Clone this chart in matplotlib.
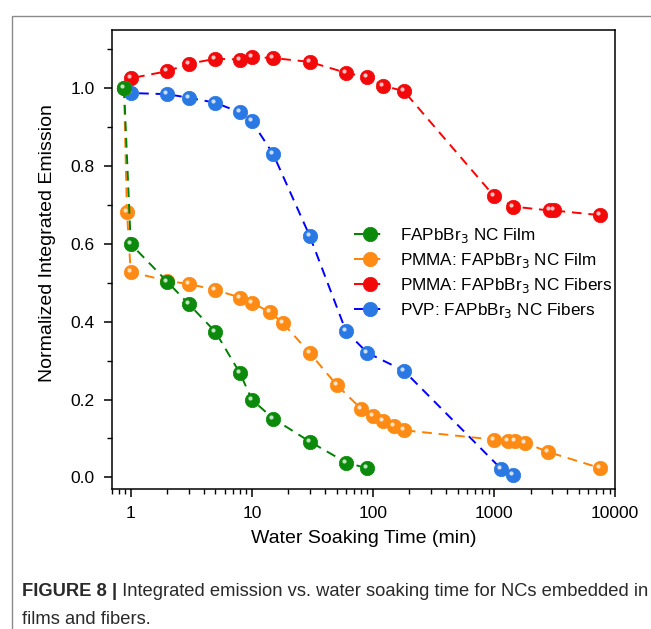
import matplotlib
matplotlib.use("Agg")
import matplotlib.pyplot as plt
import matplotlib.transforms as mtransforms
from matplotlib.patches import Rectangle
from matplotlib.ticker import FuncFormatter, LogLocator, MultipleLocator

plt.rcParams['font.family'] = ['Liberation Sans', 'DejaVu Sans']

# time in minutes, normalized integrated emission
film_x = [0.88, 1, 2, 3, 5, 8, 10, 15, 30, 60, 90]
film_y = [1.0, 0.60, 0.503, 0.446, 0.374, 0.267, 0.200, 0.151, 0.092, 0.038, 0.023]

pmma_film_x = [0.88, 0.93, 1, 2, 3, 5, 8, 10, 14, 18, 30, 50, 80, 100, 120, 150, 180,
               1000, 1300, 1500, 1800, 2800, 7500]
pmma_film_y = [1.0, 0.683, 0.528, 0.505, 0.497, 0.482, 0.462, 0.449, 0.425, 0.397, 0.320,
               0.238, 0.176, 0.157, 0.144, 0.132, 0.121, 0.097, 0.093, 0.093, 0.089, 0.065, 0.024]

pmma_fib_x = [0.88, 1, 2, 3, 5, 8, 10, 15, 30, 60, 90, 120, 180, 1000, 1440, 2880, 3100, 7500]
pmma_fib_y = [1.0, 1.026, 1.044, 1.063, 1.076, 1.074, 1.080, 1.078, 1.068, 1.040, 1.029,
              1.007, 0.993, 0.723, 0.696, 0.686, 0.686, 0.674]

pvp_fib_x = [0.88, 1, 2, 3, 5, 8, 10, 15, 30, 60, 90, 180, 1150, 1440]
pvp_fib_y = [1.0, 0.988, 0.985, 0.976, 0.963, 0.938, 0.915, 0.831, 0.621, 0.375, 0.320,
             0.274, 0.021, 0.005]

labels = ['FAPbBr$_3$ NC Film', 'PMMA: FAPbBr$_3$ NC Film',
          'PMMA: FAPbBr$_3$ NC Fibers', 'PVP: FAPbBr$_3$ NC Fibers']
series = [(film_x, film_y), (pmma_film_x, pmma_film_y),
          (pmma_fib_x, pmma_fib_y), (pvp_fib_x, pvp_fib_y)]
line_colors = ['#008000', '#FF8000', '#FF0000', '#0000FF']
marker_colors = ['#0B8A0B', '#FF8A14', '#F20A0A', '#2A78E4']
zorders = [8, 6, 4, 5]

fig = plt.figure(figsize=(6.51, 6.29), dpi=100)
ax = fig.add_axes([0.172, 0.2226, 0.773, 0.7297])

shine = mtransforms.offset_copy(ax.transData, fig=fig, x=-2.0, y=2.0, units='dots')

for (xs, ys), lab, lc, mc, z in zip(series, labels, line_colors, marker_colors, zorders):
    ax.plot(xs, ys, linestyle=(0, (5, 3.5)), color=lc, lw=1.4, marker='o', ms=10.4,
            mfc=mc, mec=mc, mew=0.5, label=lab, zorder=z)
    ax.scatter(xs, ys, s=9, color='white', alpha=0.75, lw=0, transform=shine, zorder=z + 0.5)

ax.set_xscale('log')
ax.set_xlim(0.7, 10000)
ax.set_ylim(-0.03, 1.15)
ax.xaxis.set_major_locator(LogLocator(base=10))
ax.xaxis.set_minor_locator(LogLocator(base=10, subs=range(2, 10)))
ax.xaxis.set_major_formatter(FuncFormatter(lambda v, p: f'{v:g}'))
ax.yaxis.set_major_locator(MultipleLocator(0.2))
ax.yaxis.set_minor_locator(MultipleLocator(0.1))
ax.yaxis.set_major_formatter(FuncFormatter(lambda v, p: f'{v:.1f}'))

ax.tick_params(which='major', direction='out', length=6, width=1.1, labelsize=12.5,
               top=False, right=False)
ax.tick_params(axis='x', which='major', pad=6)
ax.tick_params(axis='y', which='major', pad=6.5)
ax.tick_params(which='minor', direction='out', length=3.5, width=1.0, top=False, right=False)
for s in ax.spines.values():
    s.set_linewidth(1.1)

ax.set_xlabel('Water Soaking Time (min)', fontsize=14, labelpad=7)
ax.set_ylabel('Normalized Integrated Emission', fontsize=14, labelpad=10)
ax.yaxis.label.set_y(0.536)

handles, labs = ax.get_legend_handles_labels()
ax.legend(handles, labs, loc='upper left', bbox_to_anchor=(0.45, 0.607), frameon=False,
          fontsize=12.3, handlelength=1.9, handletextpad=0.8, labelspacing=0.35,
          numpoints=1)

# figure frame and caption
fig.patches.append(Rectangle((12 / 651, -0.1), 1.0, 1 - 16 / 629 + 0.1,
                             transform=fig.transFigure, fill=False, ec='#8a8a8a', lw=1.0))

cap_font = dict(fontsize=13.2, color='#2a2a2a')
cap = fig.text(22 / 651, 1 - 596 / 629, 'FIGURE 8 |', fontweight='bold',
               va='baseline', **cap_font)
ax.annotate(' Integrated emission vs. water soaking time for NCs embedded in',
            xy=(1, 0), xycoords=cap, va='bottom', ha='left',
            annotation_clip=False, **cap_font)
fig.text(22 / 651, 1 - 624 / 629, 'films and fibers.', va='baseline', **cap_font)

fig.savefig('out.png', dpi=100)
